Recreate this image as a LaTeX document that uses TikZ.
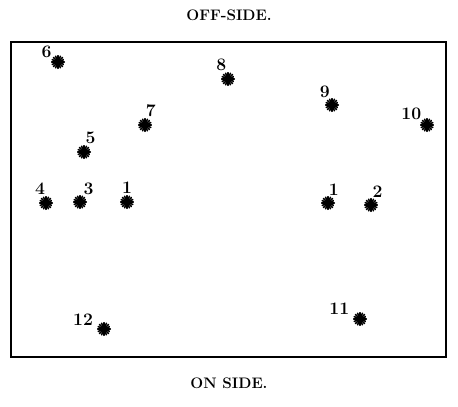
\documentclass[tikz,border=0pt]{standalone}
\usepackage{tikz}
\usetikzlibrary{positioning}
\tikzset{
    % player marked by an inked star
    player/.style={
        circle, inner sep=0pt, minimum size=4.2mm,
        path picture={
            \foreach \a in {0,22.5,...,337.5}
                {\draw[line width=1.3pt, line cap=round]
                    (path picture bounding box.center) -- ++(\a:1.9mm);}
            \fill (path picture bounding box.center) circle (1mm);
        }
    },
    % number beside a player
    num/.style={font=\fontsize{15}{17}\selectfont\bfseries, inner sep=0pt},
    % captions above and below the ground
    caption/.style={font=\fontsize{13}{15}\selectfont\bfseries},
    ground/.style={line width=1.4pt},
}

\begin{document}
\begin{tikzpicture}[x=0.03cm, y=-0.03cm]
    \useasboundingbox (0,0) rectangle (458,406);
    % the ground
    \node[caption] (off) at (229,15) {OFF-SIDE.};
    \node[caption] (on) at (229,383) {ON SIDE.};
    \draw[ground] (11,42) rectangle (446,357);
    % players: name/x/y/number/label angle/label distance
    \foreach \m/\x/\y/\n/\p/\d in {
        six/58/62/6/145/0.1mm, seven/145/125/7/85/0.3mm,
        five/84/152/5/80/0.2mm, four/46/203/4/95/0.2mm,
        three/80/202/3/65/0.3mm, oneL/127/202/1/90/0.2mm,
        eight/228/79/8/100/0.3mm, nine/332/105/9/105/0.1mm,
        ten/427/125/10/140/0mm, oneR/328/203/1/85/0mm,
        two/371/205/2/80/0.1mm, twelve/104/329/12/165/1.2mm,
        eleven/360/319/11/160/1.2mm}
    {
        \node[player, label={[num, label distance=\d]\p:\n}] (\m) at (\x,\y) {};
    }
\end{tikzpicture}
\end{document}
